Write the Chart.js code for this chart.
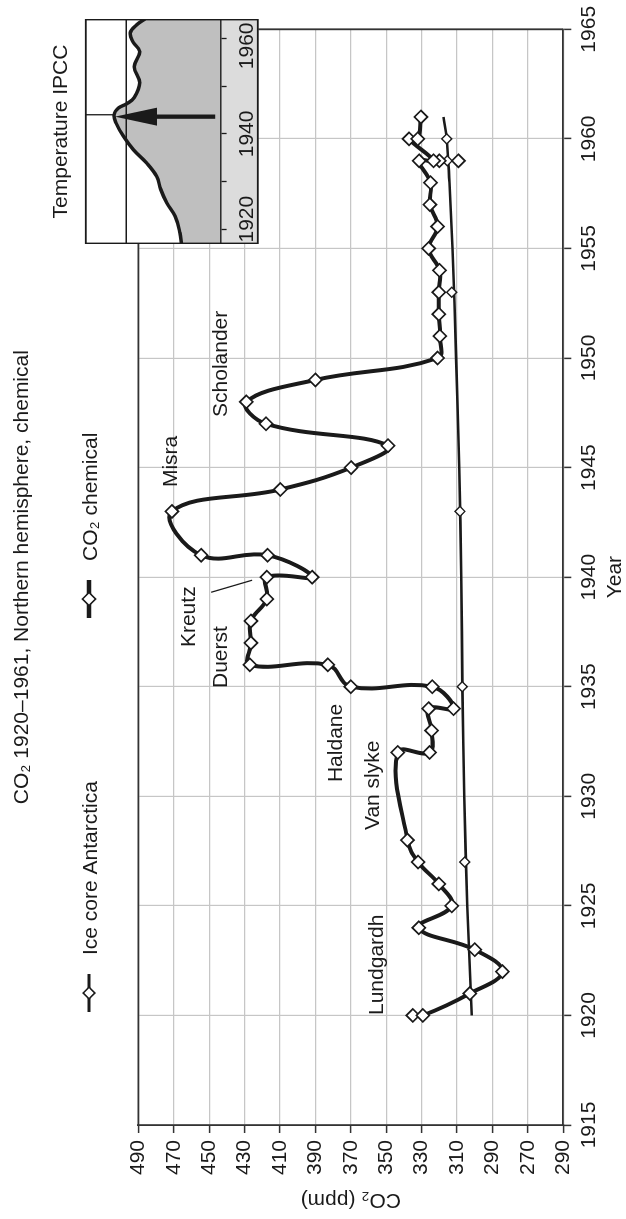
<!DOCTYPE html>
<html>
<head>
<meta charset="utf-8">
<script src="https://cdn.jsdelivr.net/npm/chart.js@4.4.1/dist/chart.umd.min.js"></script>
<style>
html, body { margin: 0; padding: 0; background: #fff; width: 626px; height: 1219px; overflow: hidden; }
#stage { position: absolute; left: 0; top: 1219px; width: 1219px; height: 626px;
         transform-origin: 0 0; transform: rotate(-90deg); background: #fff; }
#main { position: absolute; left: 0; top: 0; }
#inset { position: absolute; left: 975px; top: 30px; }
</style>
</head>
<body>
<div id="stage">
  <canvas id="main" width="1219" height="626"></canvas>
  <canvas id="inset" width="225" height="230"></canvas>
</div>
<script>
// ---------------- DATA ----------------
const chartTitle = 'CO\u2082 1920\u20131961, Northern hemisphere, chemical';
const legendLabels = ['Ice core Antarctica', 'CO\u2082 chemical'];
const xAxisTitle = 'Year';
const yAxisTitle = 'CO\u2082 (ppm)';

// CO2 chemical measurements (year, ppm)
const chemYears  = [1920, 1920, 1921, 1922, 1923, 1924, 1925, 1926, 1927, 1928,
                    1932, 1932, 1933, 1934, 1934, 1935, 1935, 1936, 1936, 1937,
                    1938, 1939, 1940, 1940, 1941, 1941, 1943, 1944, 1945, 1946,
                    1947, 1948, 1949, 1950, 1951, 1952, 1953, 1954, 1955, 1956,
                    1957, 1958, 1959, 1959, 1960, 1960, 1961];
const chemValues = [335, 329.3, 302.8, 284.4, 300, 331.6, 313, 320.3, 332, 338,
                    343.5, 325.5, 324.4, 326, 312, 324, 370, 383, 427, 426.4,
                    426.4, 417.4, 417.4, 391.8, 417, 454.5, 471, 409.8, 369.8, 349,
                    417.9, 429, 390, 321, 319.7, 320.3, 320.3, 319.9, 326, 321,
                    325.3, 325, 331.4, 323.3, 337.1, 332.2, 330.4];
// extra single chemical samples (unconnected)
const chemExtraYears  = [1959, 1959];
const chemExtraValues = [320, 309.2];

// Ice core Antarctica curve and samples
const iceLineYears  = [1920, 1925, 1930, 1935, 1940, 1945, 1950, 1955, 1958, 1960, 1961];
const iceLineValues = [301.7, 304.2, 305.9, 307, 307.6, 308.8, 310.5, 312.6, 314.3, 315.8, 317.7];
const iceSampleYears  = [1927, 1935, 1943, 1953, 1959, 1960];
const iceSampleValues = [305.7, 307, 308.4, 313, 315.6, 315.8];

// axis ticks
const yearTicks     = [1915, 1920, 1925, 1930, 1935, 1940, 1945, 1950, 1955, 1960, 1965];
const co2TickValues = [250, 270, 290, 310, 330, 350, 370, 390, 410, 430, 450, 470, 490];
const co2TickLabels = ['290', '270', '290', '310', '330', '350', '370', '390', '410', '430', '450', '470', '490'];

// annotation names
const annotationNames = ['Lundgardh', 'Van slyke', 'Haldane', 'Duerst', 'Kreutz', 'Misra', 'Scholander'];

// Inset: Temperature IPCC
const insetTitle = 'Temperature IPCC';
const insetYears = [1917.0, 1919.3, 1922.8, 1925.6, 1928.4, 1931.1, 1933.9, 1936.7, 1939.5, 1942.3,
                    1944.0, 1945.4, 1946.3, 1947.6, 1950.7, 1954.0, 1957.2, 1959.2, 1961.1, 1962.8, 1964.0];
const insetTemps = [-0.41, -0.399, -0.362, -0.30, -0.256, -0.226, -0.152, -0.053, 0.021, 0.076,
                    0.09, 0.059, -0.004, -0.06, -0.10, -0.06, -0.10, -0.05, -0.03, -0.078, -0.139];
const insetTickValues = [1920, 1930, 1940, 1950, 1960];
const insetTickLabels = ['1920', '', '1940', '', '1960'];

// ---------------- STYLE / HELPERS ----------------
const FONT = '"Liberation Sans", Arial, Helvetica, sans-serif';
const INK = '#1a1a1a';
const pts = (xs, ys) => xs.map((x, i) => ({ x: x, y: ys[i] }));

// annotation anchors in data space (start year, co2 middle)
const annotationAnchors = [
  [1920.02, 355], [1928.46, 357.5], [1930.65, 378], [1934.94, 443],
  [1936.81, 461], [1944.11, 471.3], [1947.31, 443]
];
const kreutzLeader = [[1939.31, 448.9], [1939.86, 425.7]];

function diamond(ctx, x, y, r, lw) {
  ctx.beginPath();
  ctx.moveTo(x, y - r); ctx.lineTo(x + r, y); ctx.lineTo(x, y + r); ctx.lineTo(x - r, y);
  ctx.closePath();
  ctx.fillStyle = '#fff'; ctx.fill();
  ctx.lineWidth = lw; ctx.strokeStyle = INK; ctx.stroke();
}

const mainDecor = {
  id: 'mainDecor',
  afterDraw(chart) {
    const { ctx, chartArea: a, scales: { x, y } } = chart;
    ctx.save();
    // frame: top and right
    ctx.strokeStyle = '#333'; ctx.lineWidth = 1.8;
    ctx.beginPath();
    ctx.moveTo(a.left, a.top); ctx.lineTo(a.right, a.top); ctx.lineTo(a.right, a.bottom);
    ctx.stroke();

    // title
    ctx.fillStyle = INK;
    ctx.font = '21px ' + FONT;
    ctx.textAlign = 'center'; ctx.textBaseline = 'alphabetic';
    ctx.fillText(chartTitle, (a.left + a.right) / 2, 28);

    // legend
    const legendItems = [
      { u: 207, lw: 3, r: 5.8 },
      { u: 601, lw: 4.5, r: 6.5 }
    ];
    legendItems.forEach((it, i) => {
      ctx.strokeStyle = INK; ctx.lineWidth = it.lw;
      ctx.beginPath(); ctx.moveTo(it.u, 89); ctx.lineTo(it.u + 38, 89); ctx.stroke();
      diamond(ctx, it.u + 19, 89, it.r, 1.6);
      ctx.fillStyle = INK; ctx.textAlign = 'left'; ctx.textBaseline = 'alphabetic';
      ctx.fillText(legendLabels[i], it.u + 57, 96.7);
    });

    // annotations
    ctx.textAlign = 'left'; ctx.textBaseline = 'middle'; ctx.fillStyle = INK;
    annotationNames.forEach((n, i) => {
      const [yr, c] = annotationAnchors[i];
      ctx.fillText(n, x.getPixelForValue(yr), y.getPixelForValue(c));
    });
    // Kreutz leader line
    ctx.strokeStyle = INK; ctx.lineWidth = 1.3;
    ctx.beginPath();
    ctx.moveTo(x.getPixelForValue(kreutzLeader[0][0]), y.getPixelForValue(kreutzLeader[0][1]));
    ctx.lineTo(x.getPixelForValue(kreutzLeader[1][0]), y.getPixelForValue(kreutzLeader[1][1]));
    ctx.stroke();
    ctx.restore();
  }
};

const mainChart = new Chart(document.getElementById('main'), {
  type: 'line',
  data: {
    datasets: [
      { label: legendLabels[1], data: pts(chemYears, chemValues),
        borderColor: INK, borderWidth: 4, tension: 0.4,
        pointStyle: 'rectRot', pointRadius: 6.5, pointBackgroundColor: '#fff',
        pointBorderColor: INK, pointBorderWidth: 1.7 },
      { label: 'chem extra', data: pts(chemExtraYears, chemExtraValues), showLine: false,
        pointStyle: 'rectRot', pointRadius: 6.5, pointBackgroundColor: '#fff',
        pointBorderColor: INK, pointBorderWidth: 1.7 },
      { label: 'ice samples', data: pts(iceSampleYears, iceSampleValues), showLine: false,
        pointStyle: 'rectRot', pointRadius: 5, pointBackgroundColor: '#fff',
        pointBorderColor: INK, pointBorderWidth: 1.4 },
      { label: legendLabels[0], data: pts(iceLineYears, iceLineValues),
        borderColor: INK, borderWidth: 2.6, tension: 0.4, pointRadius: 0 }
    ]
  },
  options: {
    responsive: false, animation: false, devicePixelRatio: 1,
    layout: { padding: { top: 138.3, right: 29.3, left: 0, bottom: 0 }, autoPadding: false },
    plugins: { legend: { display: false }, tooltip: { enabled: false }, title: { display: false } },
    elements: { line: { capBezierPoints: true } },
    scales: {
      x: {
        type: 'linear', min: 1915, max: 1965,
        afterBuildTicks(s) { s.ticks = yearTicks.map(v => ({ value: v })); },
        ticks: { callback: v => String(v), font: { family: FONT, size: 21 }, color: INK,
                 padding: 5, maxRotation: 0, autoSkip: false },
        grid: { color: '#c6c6c6', lineWidth: 1.2, tickColor: '#333', tickLength: 8, tickWidth: 1.5 },
        border: { color: '#333', width: 1.8 },
        title: { display: true, text: xAxisTitle, color: INK,
                 font: { family: FONT, size: 21, lineHeight: 1 }, padding: { top: 0, bottom: 0 } },
        afterFit(s) { s.height = 62.7; }
      },
      y: {
        type: 'linear', min: 250, max: 490,
        afterBuildTicks(s) { s.ticks = co2TickValues.map(v => ({ value: v })); },
        ticks: { callback: (v, i) => co2TickLabels[i], font: { family: FONT, size: 21 }, color: INK,
                 padding: 7, autoSkip: false },
        grid: { color: '#c6c6c6', lineWidth: 1.2, tickColor: '#333', tickLength: 8, tickWidth: 1.5 },
        border: { color: '#333', width: 1.8 },
        title: { display: true, text: yAxisTitle, color: INK,
                 font: { family: FONT, size: 21, lineHeight: 1.2 }, padding: { top: 6.4, bottom: 0 } },
        afterFit(s) { s.width = 94; }
      }
    }
  },
  plugins: [mainDecor]
});

// ---------------- INSET ----------------
const insetArrow = { year: 1943.6, tip: 0.083, tail: -0.66 };
const insetMarker = { year: 1944.0, temp: 0.09 };

const insetDecor = {
  id: 'insetDecor',
  beforeDraw(chart) {
    const { ctx, chartArea: a, scales: { x } } = chart;
    ctx.save();
    ctx.fillStyle = '#fff';
    ctx.fillRect(a.left, a.top, a.right - a.left, a.bottom - a.top);
    ctx.fillStyle = '#dcdcdc';
    ctx.fillRect(a.left, a.bottom, a.right - a.left, x.bottom - a.bottom);
    ctx.restore();
  },
  afterDatasetsDraw(chart) {
    const { ctx, chartArea: a, scales: { x, y } } = chart;
    ctx.save();
    // zero line
    const y0 = y.getPixelForValue(0);
    ctx.strokeStyle = INK; ctx.lineWidth = 1.3;
    ctx.beginPath(); ctx.moveTo(a.left, y0); ctx.lineTo(a.right, y0); ctx.stroke();
    // marker line to peak
    const mx = x.getPixelForValue(insetMarker.year);
    ctx.beginPath(); ctx.moveTo(mx, a.top); ctx.lineTo(mx, y.getPixelForValue(insetMarker.temp)); ctx.stroke();
    // arrow
    const ax = x.getPixelForValue(insetArrow.year);
    const tipY = y.getPixelForValue(insetArrow.tip);
    const tailY = y.getPixelForValue(insetArrow.tail);
    const headLen = 42, headHalf = 9;
    ctx.lineWidth = 4.3;
    ctx.beginPath(); ctx.moveTo(ax, tailY); ctx.lineTo(ax, tipY + headLen - 2); ctx.stroke();
    ctx.fillStyle = INK;
    ctx.beginPath();
    ctx.moveTo(ax, tipY); ctx.lineTo(ax + headHalf, tipY + headLen); ctx.lineTo(ax - headHalf, tipY + headLen);
    ctx.closePath(); ctx.fill();
    ctx.restore();
  },
  afterDraw(chart) {
    const { ctx, chartArea: a, scales: { x } } = chart;
    ctx.save();
    // axis labels clamped inside the box
    ctx.font = '21px ' + FONT; ctx.fillStyle = INK; ctx.textBaseline = 'alphabetic';
    insetTickValues.forEach((v, i) => {
      const t = insetTickLabels[i];
      if (!t) return;
      const w = ctx.measureText(t).width;
      let cx = x.getPixelForValue(v);
      cx = Math.max(a.left + 1.5 + w / 2, Math.min(a.right - 3.5 - w / 2, cx));
      ctx.textAlign = 'center';
      ctx.fillText(t, cx, a.bottom + 32.5);
    });
    // box
    ctx.strokeStyle = INK; ctx.lineWidth = 1.8;
    ctx.strokeRect(a.left + 0.5, a.top, a.right - a.left - 1, x.bottom - a.top - 0.5);
    // title
    ctx.textAlign = 'center';
    ctx.fillText(insetTitle, (a.left + a.right) / 2, 37);
    ctx.restore();
  }
};

const insetChart = new Chart(document.getElementById('inset'), {
  type: 'line',
  data: {
    datasets: [{
      label: insetTitle, data: pts(insetYears, insetTemps),
      borderColor: INK, borderWidth: 3.5, tension: 0.4, pointRadius: 0,
      fill: 'start', backgroundColor: '#bfbfbf'
    }]
  },
  options: {
    responsive: false, animation: false, devicePixelRatio: 1,
    layout: { padding: { top: 55.8, bottom: 1.7, left: 0, right: 0 }, autoPadding: false },
    plugins: { legend: { display: false }, tooltip: { enabled: false }, filler: { propagate: false } },
    scales: {
      x: {
        type: 'linear', min: 1917, max: 1964,
        afterBuildTicks(s) { s.ticks = insetTickValues.map(v => ({ value: v })); },
        ticks: { display: true, callback: () => '', font: { family: FONT, size: 21 } },
        grid: { drawOnChartArea: false, tickColor: INK, tickLength: 6, tickWidth: 1.3 },
        border: { color: INK, width: 1.5 },
        afterFit(s) { s.height = 37.7; }
      },
      y: { type: 'linear', min: -0.7, max: 0.3, display: false }
    }
  }
  ,
  plugins: [insetDecor]
});
</script>
</body>
</html>
